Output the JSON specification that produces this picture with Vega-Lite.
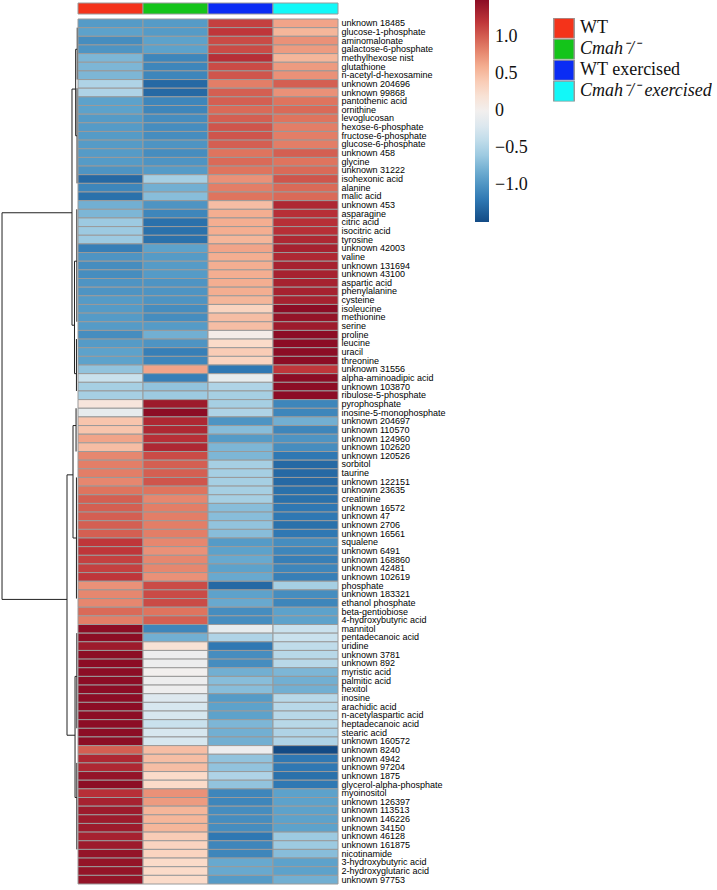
{
  "$schema": "https://vega.github.io/schema/vega-lite/v6.json",
  "padding": 0,
  "bounds": "flush",
  "columns": 2,
  "spacing": {"row": 5, "column": 0},
  "resolve": {"scale": {"color": "independent", "x": "independent", "y": "independent"}, "legend": {"color": "independent"}},
  "config": {"view": {"stroke": null}},
  "datasets": {
    "groups": [{"g": "WT"}, {"g": "Cmah⁻/⁻"}, {"g": "WT exercised"}, {"g": "Cmah⁻/⁻ exercised"}],
    "dendro": [
      {"h1": 9.74, "h2": 9.74, "p1": 22.4, "p2": 67.1},
      {"h1": 9.74, "h2": 0.77, "p1": 22.4, "p2": 22.4},
      {"h1": 9.74, "h2": 1.41, "p1": 67.1, "p2": 67.1},
      {"h1": 0.77, "h2": 0.77, "p1": 8.1, "p2": 35.4},
      {"h1": 0.77, "h2": 0.3, "p1": 8.1, "p2": 8.1},
      {"h1": 0.77, "h2": 0.45, "p1": 35.4, "p2": 35.4},
      {"h1": 0.3, "h2": 0.3, "p1": 3.5, "p2": 13.5},
      {"h1": 0.3, "h2": 0.1, "p1": 3.5, "p2": 3.5},
      {"h1": 0.3, "h2": 0.12, "p1": 13.5, "p2": 13.5},
      {"h1": 0.1, "h2": 0.1, "p1": 1, "p2": 7},
      {"h1": 0.12, "h2": 0.12, "p1": 8, "p2": 19},
      {"h1": 0.45, "h2": 0.45, "p1": 28, "p2": 41},
      {"h1": 0.45, "h2": 0.15, "p1": 28, "p2": 28},
      {"h1": 0.45, "h2": 0.2, "p1": 41, "p2": 41},
      {"h1": 0.15, "h2": 0.15, "p1": 22, "p2": 35},
      {"h1": 0.2, "h2": 0.2, "p1": 37, "p2": 43},
      {"h1": 1.41, "h2": 1.41, "p1": 52.7, "p2": 82.8},
      {"h1": 1.41, "h2": 0.64, "p1": 52.7, "p2": 52.7},
      {"h1": 1.41, "h2": 0.38, "p1": 82.8, "p2": 82.8},
      {"h1": 0.64, "h2": 0.64, "p1": 47, "p2": 60},
      {"h1": 0.64, "h2": 0.25, "p1": 47, "p2": 47},
      {"h1": 0.64, "h2": 0.2, "p1": 60, "p2": 60},
      {"h1": 0.25, "h2": 0.25, "p1": 45, "p2": 50},
      {"h1": 0.2, "h2": 0.2, "p1": 53, "p2": 67},
      {"h1": 0.38, "h2": 0.38, "p1": 76, "p2": 90},
      {"h1": 0.38, "h2": 0.15, "p1": 76, "p2": 76},
      {"h1": 0.38, "h2": 0.15, "p1": 90, "p2": 90},
      {"h1": 0.15, "h2": 0.15, "p1": 71, "p2": 82},
      {"h1": 0.15, "h2": 0.15, "p1": 86, "p2": 96}
    ],
    "metab": [
      {"i": 1, "name": "unknown 18485", "a": -0.95, "b": -0.95, "c": 1.15, "d": 0.65},
      {"i": 2, "name": "glucose-1-phosphate", "a": -0.9, "b": -0.95, "c": 1.2, "d": 0.55},
      {"i": 3, "name": "aminomalonate", "a": -1.05, "b": -0.9, "c": 1.1, "d": 0.75},
      {"i": 4, "name": "galactose-6-phosphate", "a": -1.0, "b": -0.9, "c": 1.1, "d": 0.7},
      {"i": 5, "name": "methylhexose nist", "a": -0.75, "b": -1.1, "c": 1.25, "d": 0.55},
      {"i": 6, "name": "glutathione", "a": -0.75, "b": -1.1, "c": 1.1, "d": 0.7},
      {"i": 7, "name": "n-acetyl-d-hexosamine", "a": -0.75, "b": -1.1, "c": 1.05, "d": 0.75},
      {"i": 8, "name": "unknown 204696", "a": -0.5, "b": -1.3, "c": 0.85, "d": 1.0},
      {"i": 9, "name": "unknown 99868", "a": -0.5, "b": -1.3, "c": 1.0, "d": 0.75},
      {"i": 10, "name": "pantothenic acid", "a": -0.9, "b": -1.1, "c": 1.0, "d": 0.9},
      {"i": 11, "name": "ornithine", "a": -0.9, "b": -1.1, "c": 0.95, "d": 0.95},
      {"i": 12, "name": "levoglucosan", "a": -0.95, "b": -1.05, "c": 1.0, "d": 0.9},
      {"i": 13, "name": "hexose-6-phosphate", "a": -0.95, "b": -1.05, "c": 1.05, "d": 0.85},
      {"i": 14, "name": "fructose-6-phosphate", "a": -0.95, "b": -1.05, "c": 1.05, "d": 0.85},
      {"i": 15, "name": "glucose-6-phosphate", "a": -0.95, "b": -1.0, "c": 1.0, "d": 0.85},
      {"i": 16, "name": "unknown 458", "a": -0.95, "b": -1.05, "c": 0.9, "d": 1.0},
      {"i": 17, "name": "glycine", "a": -0.95, "b": -1.0, "c": 0.95, "d": 0.9},
      {"i": 18, "name": "unknown 31222", "a": -1.0, "b": -0.95, "c": 0.9, "d": 0.95},
      {"i": 19, "name": "isohexonic acid", "a": -1.3, "b": -0.55, "c": 0.75, "d": 1.05},
      {"i": 20, "name": "alanine", "a": -1.1, "b": -0.8, "c": 0.85, "d": 0.95},
      {"i": 21, "name": "malic acid", "a": -1.25, "b": -0.7, "c": 0.9, "d": 0.95},
      {"i": 22, "name": "unknown 453", "a": -0.8, "b": -1.0, "c": 0.5, "d": 1.3},
      {"i": 23, "name": "asparagine", "a": -0.75, "b": -1.1, "c": 0.6, "d": 1.25},
      {"i": 24, "name": "citric acid", "a": -0.6, "b": -1.25, "c": 0.6, "d": 1.25},
      {"i": 25, "name": "isocitric acid", "a": -0.6, "b": -1.25, "c": 0.6, "d": 1.25},
      {"i": 26, "name": "tyrosine", "a": -0.6, "b": -1.25, "c": 0.55, "d": 1.3},
      {"i": 27, "name": "unknown 42003", "a": -1.15, "b": -0.9, "c": 0.65, "d": 1.35},
      {"i": 28, "name": "valine", "a": -1.0, "b": -0.95, "c": 0.6, "d": 1.3},
      {"i": 29, "name": "unknown 131694", "a": -1.05, "b": -0.95, "c": 0.6, "d": 1.35},
      {"i": 30, "name": "unknown 43100", "a": -1.05, "b": -0.95, "c": 0.6, "d": 1.35},
      {"i": 31, "name": "aspartic acid", "a": -1.0, "b": -1.0, "c": 0.6, "d": 1.35},
      {"i": 32, "name": "phenylalanine", "a": -1.0, "b": -1.0, "c": 0.6, "d": 1.35},
      {"i": 33, "name": "cysteine", "a": -0.95, "b": -1.0, "c": 0.55, "d": 1.35},
      {"i": 34, "name": "isoleucine", "a": -0.95, "b": -1.05, "c": 0.35, "d": 1.5},
      {"i": 35, "name": "methionine", "a": -0.95, "b": -1.05, "c": 0.5, "d": 1.45},
      {"i": 36, "name": "serine", "a": -0.95, "b": -0.95, "c": 0.5, "d": 1.4},
      {"i": 37, "name": "proline", "a": -1.05, "b": -0.8, "c": 0.05, "d": 1.5},
      {"i": 38, "name": "leucine", "a": -0.95, "b": -1.0, "c": 0.3, "d": 1.5},
      {"i": 39, "name": "uracil", "a": -0.9, "b": -1.15, "c": 0.4, "d": 1.5},
      {"i": 40, "name": "threonine", "a": -0.9, "b": -1.1, "c": 0.35, "d": 1.5},
      {"i": 41, "name": "unknown 31556", "a": -0.65, "b": 0.65, "c": -1.2, "d": 1.2},
      {"i": 42, "name": "alpha-aminoadipic acid", "a": -0.35, "b": -1.15, "c": -0.1, "d": 1.5},
      {"i": 43, "name": "unknown 103870", "a": -0.55, "b": -0.65, "c": -0.5, "d": 1.5},
      {"i": 44, "name": "ribulose-5-phosphate", "a": -0.55, "b": -0.6, "c": -0.55, "d": 1.5},
      {"i": 45, "name": "pyrophosphate", "a": 0.15, "b": 1.4, "c": -0.55, "d": -1.1},
      {"i": 46, "name": "inosine-5-monophosphate", "a": -0.1, "b": 1.5, "c": -0.5, "d": -1.1},
      {"i": 47, "name": "unknown 204697", "a": 0.45, "b": 1.3, "c": -1.0, "d": -0.8},
      {"i": 48, "name": "unknown 110570", "a": 0.45, "b": 1.3, "c": -0.7, "d": -1.1},
      {"i": 49, "name": "unknown 124960", "a": 0.65, "b": 1.25, "c": -0.95, "d": -1.0},
      {"i": 50, "name": "unknown 102620", "a": 0.5, "b": 1.3, "c": -0.75, "d": -1.05},
      {"i": 51, "name": "unknown 120526", "a": 0.8, "b": 1.1, "c": -0.75, "d": -1.2},
      {"i": 52, "name": "sorbitol", "a": 0.85, "b": 1.0, "c": -0.55, "d": -1.3},
      {"i": 53, "name": "taurine", "a": 0.85, "b": 1.0, "c": -0.55, "d": -1.3},
      {"i": 54, "name": "unknown 122151", "a": 0.8, "b": 1.05, "c": -0.55, "d": -1.3},
      {"i": 55, "name": "unknown 23635", "a": 0.9, "b": 0.9, "c": -0.55, "d": -1.25},
      {"i": 56, "name": "creatinine", "a": 1.0, "b": 0.8, "c": -0.55, "d": -1.25},
      {"i": 57, "name": "unknown 16572", "a": 1.0, "b": 0.85, "c": -0.7, "d": -1.2},
      {"i": 58, "name": "unknown 47", "a": 1.0, "b": 0.85, "c": -0.7, "d": -1.2},
      {"i": 59, "name": "unknown 2706", "a": 1.0, "b": 0.85, "c": -0.65, "d": -1.25},
      {"i": 60, "name": "unknown 16561", "a": 1.0, "b": 0.85, "c": -0.7, "d": -1.2},
      {"i": 61, "name": "squalene", "a": 1.2, "b": 0.8, "c": -0.95, "d": -1.05},
      {"i": 62, "name": "unknown 6491", "a": 1.2, "b": 0.75, "c": -0.9, "d": -1.1},
      {"i": 63, "name": "unknown 168860", "a": 1.15, "b": 0.8, "c": -0.85, "d": -1.15},
      {"i": 64, "name": "unknown 42481", "a": 1.15, "b": 0.8, "c": -0.9, "d": -1.1},
      {"i": 65, "name": "unknown 102619", "a": 1.2, "b": 0.75, "c": -0.85, "d": -1.15},
      {"i": 66, "name": "phosphate", "a": 0.75, "b": 1.1, "c": -1.3, "d": -0.55},
      {"i": 67, "name": "unknown 183321", "a": 0.8, "b": 1.1, "c": -0.9, "d": -1.05},
      {"i": 68, "name": "ethanol phosphate", "a": 0.8, "b": 1.1, "c": -0.85, "d": -1.1},
      {"i": 69, "name": "beta-gentiobiose", "a": 0.95, "b": 0.9, "c": -1.05, "d": -0.9},
      {"i": 70, "name": "4-hydroxybutyric acid", "a": 0.85, "b": 1.0, "c": -1.05, "d": -0.9},
      {"i": 71, "name": "mannitol", "a": 1.5, "b": -1.1, "c": -0.1, "d": -0.35},
      {"i": 72, "name": "pentadecanoic acid", "a": 1.5, "b": -0.8, "c": -0.5, "d": -0.35},
      {"i": 73, "name": "uridine", "a": 1.4, "b": 0.2, "c": -1.2, "d": -0.4},
      {"i": 74, "name": "unknown 3781", "a": 1.5, "b": -0.05, "c": -1.05, "d": -0.45},
      {"i": 75, "name": "unknown 892", "a": 1.5, "b": -0.05, "c": -1.05, "d": -0.45},
      {"i": 76, "name": "myristic acid", "a": 1.5, "b": 0.0, "c": -0.8, "d": -0.75},
      {"i": 77, "name": "palmitic acid", "a": 1.5, "b": -0.05, "c": -0.7, "d": -0.8},
      {"i": 78, "name": "hexitol", "a": 1.5, "b": -0.05, "c": -0.7, "d": -0.8},
      {"i": 79, "name": "inosine", "a": 1.5, "b": -0.2, "c": -0.95, "d": -0.45},
      {"i": 80, "name": "arachidic acid", "a": 1.5, "b": -0.25, "c": -0.9, "d": -0.45},
      {"i": 81, "name": "n-acetylaspartic acid", "a": 1.5, "b": -0.25, "c": -0.9, "d": -0.45},
      {"i": 82, "name": "heptadecanoic acid", "a": 1.5, "b": -0.35, "c": -0.75, "d": -0.45},
      {"i": 83, "name": "stearic acid", "a": 1.5, "b": -0.25, "c": -0.8, "d": -0.5},
      {"i": 84, "name": "unknown 160572", "a": 1.5, "b": -0.25, "c": -0.8, "d": -0.5},
      {"i": 85, "name": "unknown 8240", "a": 1.0, "b": 0.5, "c": -0.05, "d": -1.5},
      {"i": 86, "name": "unknown 4942", "a": 1.3, "b": 0.5, "c": -0.65, "d": -1.2},
      {"i": 87, "name": "unknown 97204", "a": 1.3, "b": 0.5, "c": -0.65, "d": -1.2},
      {"i": 88, "name": "unknown 1875", "a": 1.45, "b": 0.3, "c": -0.5, "d": -1.25},
      {"i": 89, "name": "glycerol-alpha-phosphate", "a": 1.5, "b": 0.3, "c": -0.65, "d": -1.2},
      {"i": 90, "name": "myoinositol", "a": 1.25, "b": 0.75, "c": -1.1, "d": -0.9},
      {"i": 91, "name": "unknown 126397", "a": 1.35, "b": 0.7, "c": -1.1, "d": -0.9},
      {"i": 92, "name": "unknown 113513", "a": 1.4, "b": 0.55, "c": -1.05, "d": -0.9},
      {"i": 93, "name": "unknown 146226", "a": 1.4, "b": 0.55, "c": -1.05, "d": -0.9},
      {"i": 94, "name": "unknown 34150", "a": 1.4, "b": 0.55, "c": -1.05, "d": -0.9},
      {"i": 95, "name": "unknown 46128", "a": 1.35, "b": 0.4, "c": -1.2, "d": -0.6},
      {"i": 96, "name": "unknown 161875", "a": 1.4, "b": 0.35, "c": -1.1, "d": -0.6},
      {"i": 97, "name": "nicotinamide", "a": 1.45, "b": 0.35, "c": -1.1, "d": -0.7},
      {"i": 98, "name": "3-hydroxybutyric acid", "a": 1.45, "b": 0.3, "c": -0.85, "d": -0.9},
      {"i": 99, "name": "2-hydroxyglutaric acid", "a": 1.45, "b": 0.3, "c": -0.85, "d": -0.9},
      {"i": 100, "name": "unknown 97753", "a": 1.45, "b": 0.3, "c": -0.95, "d": -0.8}
    ]
  },
  "concat": [
    {
      "data": {"values": [{}]},
      "width": 78,
      "height": 11,
      "mark": {"type": "text", "text": ""}
    },
    {
      "data": {"name": "groups"},
      "width": 260,
      "height": 11,
      "mark": {"type": "rect", "stroke": "#9a9a9a", "strokeWidth": 1},
      "encoding": {
        "x": {"field": "g", "type": "nominal", "sort": null, "axis": null, "scale": {"paddingInner": 0, "paddingOuter": 0}},
        "color": {
          "field": "g", "type": "nominal", "sort": null,
          "scale": {"domain": ["WT", "Cmah⁻/⁻", "WT exercised", "Cmah⁻/⁻ exercised"], "range": ["#f4331a", "#14c41a", "#0a2cf4", "#12f8f8"]},
          "legend": {
            "orient": "none", "legendX": 475, "legendY": 15, "title": null, "padding": 0,
            "symbolType": "square", "symbolSize": 420, "symbolStrokeColor": "#999999", "symbolStrokeWidth": 1.5, "symbolOpacity": 1,
            "rowPadding": 0, "clipHeight": 20.5, "labelFont": "Liberation Serif", "labelFontSize": 18, "labelColor": "#111111", "labelOffset": 5, "labelLimit": 0,
            "encode": {"labels": {"update": {"fontStyle": {"signal": "test(/Cmah/, datum.label) ? 'italic' : 'normal'"}}}}
          }
        }
      }
    },
    {
      "data": {"name": "dendro"},
      "width": 78,
      "height": 865,
      "mark": {"type": "rule", "color": "#222222", "strokeWidth": 1},
      "encoding": {
        "x": {"field": "h1", "type": "quantitative", "scale": {"domain": [0, 10], "reverse": true, "nice": false, "zero": false}, "axis": null},
        "x2": {"field": "h2"},
        "y": {"field": "p1", "type": "quantitative", "scale": {"domain": [0, 100], "reverse": true, "nice": false}, "axis": null},
        "y2": {"field": "p2"}
      }
    },
    {
      "data": {"name": "metab"},
      "transform": [{"fold": ["a", "b", "c", "d"], "as": ["grp", "z"]}],
      "width": 260,
      "height": 865,
      "mark": {"type": "rect", "stroke": "#9a9a9a", "strokeWidth": 1},
      "encoding": {
        "x": {"field": "grp", "type": "nominal", "axis": null, "scale": {"paddingInner": 0, "paddingOuter": 0}},
        "y": {
          "field": "name", "type": "nominal", "sort": {"field": "i", "op": "min"},
          "scale": {"paddingInner": 0, "paddingOuter": 0},
          "axis": {"orient": "right", "title": null, "ticks": false, "domain": false, "labelFont": "Liberation Sans", "labelFontSize": 9, "labelFontWeight": "normal", "labelPadding": 3, "labelColor": "#000000", "labelLimit": 0, "labelOverlap": false, "labelBound": false}
        },
        "color": {
          "field": "z", "type": "quantitative",
          "scale": {"scheme": {"name": "redblue", "extent": [1, 0]}, "domain": [-1.5, 1.5]},
          "legend": {
            "orient": "none", "legendX": 397, "legendY": -19, "title": null, "padding": 0, "direction": "vertical",
            "gradientLength": 222, "gradientThickness": 14, "gradientStrokeWidth": 0,
            "values": [1, 0.5, 0, -0.5, -1],
            "labelExpr": "datum.value == 0 ? '0' : format(datum.value, '.1f')",
            "labelFont": "Liberation Serif", "labelFontSize": 18, "labelColor": "#111111", "labelOffset": 6
          }
        }
      }
    }
  ]
}
